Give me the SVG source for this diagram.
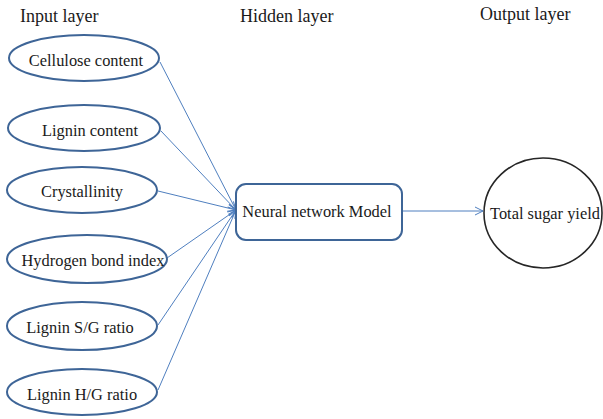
<svg xmlns="http://www.w3.org/2000/svg" width="603" height="419" viewBox="0 0 603 419">
<style>
text{font-family:"Liberation Serif","Times New Roman",serif;fill:#1a1a1a}
.lbl{font-size:16.4px;text-anchor:middle;dominant-baseline:central}
.ttl{font-size:18px}
.in{fill:#fff;stroke:#3e6597;stroke-width:2}
.c{stroke:#4f7fbf;stroke-width:1;fill:none}
</style>
<defs>
<marker id="arr" markerWidth="10" markerHeight="10" refX="9" refY="5" orient="auto" markerUnits="userSpaceOnUse">
<path d="M1,1 L9,5 L1,9" fill="none" stroke="#4f7fbf" stroke-width="1"/>
</marker>
</defs>
<text class="ttl" x="20" y="22">Input layer</text>
<text class="ttl" x="240" y="22">Hidden layer</text>
<text class="ttl" x="480" y="20">Output layer</text>
<g id="connectors">
<line class="c" x1="160" y1="62" x2="236" y2="210" marker-end="url(#arr)"/>
<line class="c" x1="161" y1="131" x2="236" y2="210" marker-end="url(#arr)"/>
<line class="c" x1="158" y1="191" x2="236" y2="210" marker-end="url(#arr)"/>
<line class="c" x1="167" y1="258" x2="236" y2="210" marker-end="url(#arr)"/>
<line class="c" x1="158" y1="325" x2="236" y2="210" marker-end="url(#arr)"/>
<line class="c" x1="158" y1="390" x2="236" y2="210" marker-end="url(#arr)"/>
<line class="c" x1="402" y1="211" x2="483" y2="211" marker-end="url(#arr)"/>
</g>
<g id="n1"><ellipse class="in" cx="84" cy="58" rx="75" ry="23"/><text class="lbl" x="86" y="60">Cellulose content</text></g>
<g id="n2"><ellipse class="in" cx="84" cy="128" rx="76" ry="23"/><text class="lbl" x="90" y="130">Lignin content</text></g>
<g id="n3"><ellipse class="in" cx="82" cy="190" rx="75" ry="23"/><text class="lbl" x="82" y="191">Crystallinity</text></g>
<g id="n4"><ellipse class="in" cx="87" cy="259" rx="80" ry="24"/><text class="lbl" x="93" y="260">Hydrogen bond index</text></g>
<g id="n5"><ellipse class="in" cx="82" cy="326" rx="75" ry="24"/><text class="lbl" x="80" y="327">Lignin S/G ratio</text></g>
<g id="n6"><ellipse class="in" cx="82" cy="392" rx="75" ry="23"/><text class="lbl" x="82" y="394">Lignin H/G ratio</text></g>
<g id="hidden"><rect x="236" y="184" width="166" height="56" rx="10" fill="#fff" stroke="#3e6597" stroke-width="2"/><text class="lbl" x="317" y="211">Neural network Model</text></g>
<g id="output"><ellipse cx="543" cy="213" rx="59" ry="55" fill="#fff" stroke="#262626" stroke-width="1.6"/><text class="lbl" x="545" y="213">Total sugar yield</text></g>
</svg>
